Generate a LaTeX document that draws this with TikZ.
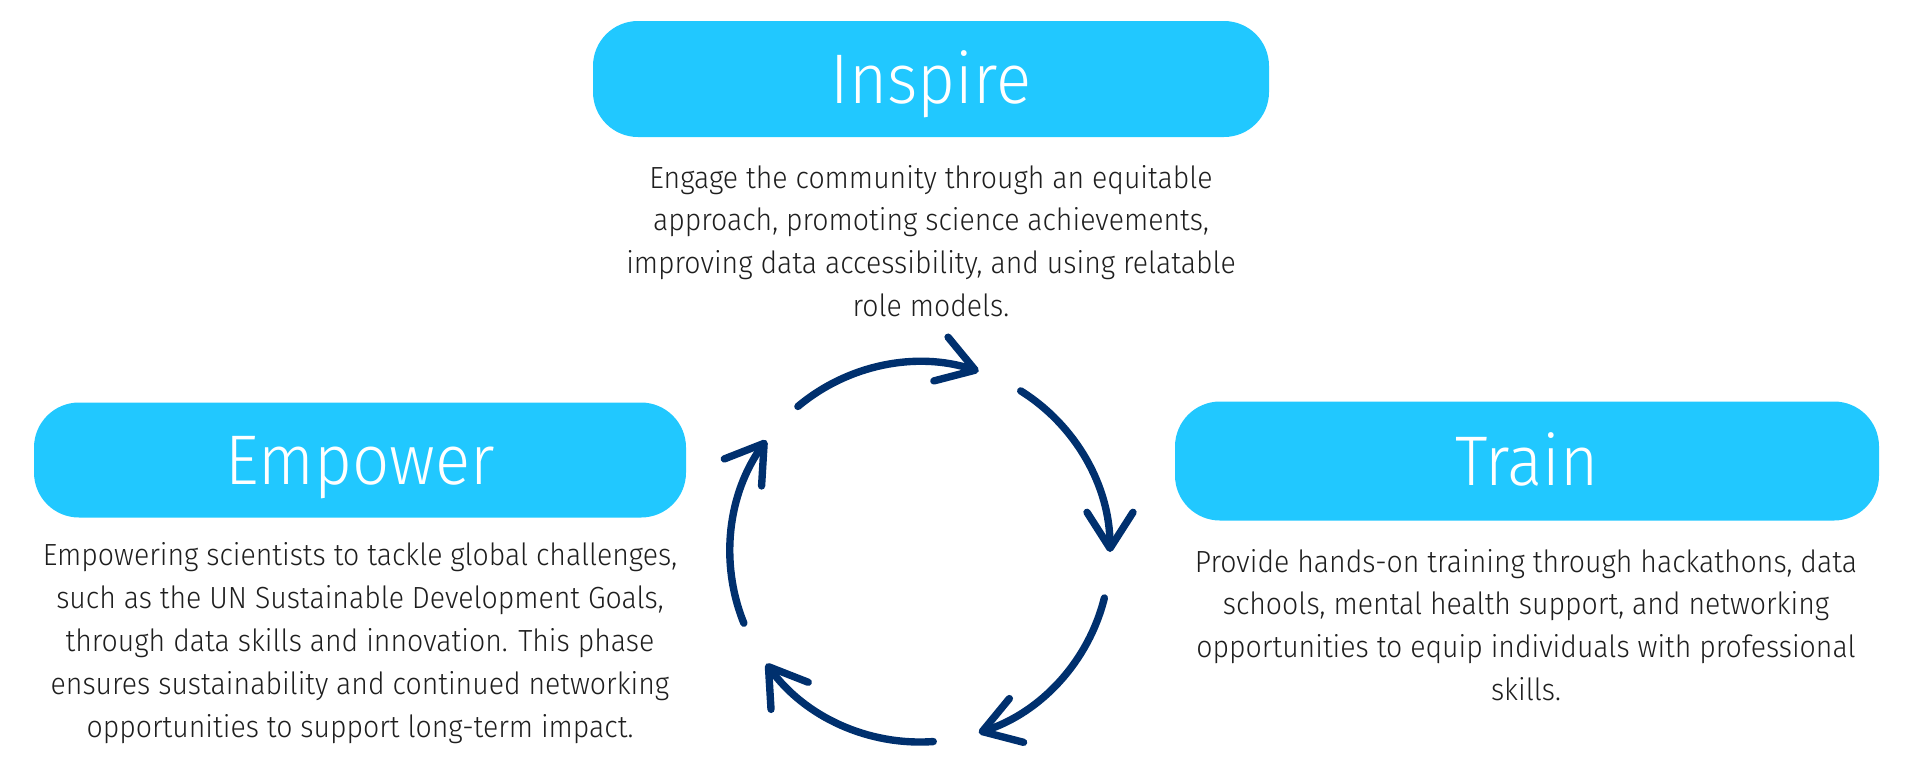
\documentclass[tikz,border=0pt]{standalone}
\usepackage{fontspec}
\setmainfont{Fira Sans}[UprightFont=* Light, FakeStretch=0.93]
\usetikzlibrary{arrows.meta}

\definecolor{phasecyan}{RGB}{33,200,255}
\definecolor{cyclenavy}{RGB}{0,48,110}
\definecolor{bodygrey}{RGB}{30,30,30}

\tikzset{
	phase/.style={fill=phasecyan, rounded corners=0.45cm, text=white, inner sep=0pt,
		font=\fontsize{20}{24}\selectfont, text height=0.49cm, text depth=0pt},
	blurb/.style={text=bodygrey, align=center, font=\fontsize{8.7}{12.2}\selectfont},
	cyc/.style={draw=cyclenavy, line width=2.1pt, line cap=round,
		-{Straight Barb[length=3.6mm, width=4.6mm, round]}}
}

\begin{document}
\begin{tikzpicture}
			\def \r{1.9}
			\useasboundingbox (0,0) rectangle (19.2,7.81);

			% phase boxes
			\node[phase, minimum width=6.76cm, minimum height=1.16cm] (inspire) at (9.31, 7.02) {Inspire};
			\node[phase, minimum width=6.52cm, minimum height=1.15cm] (empower) at (3.60, 3.21) {Empower};
			\node[phase, minimum width=7.04cm, minimum height=1.19cm] (train) at (15.27, 3.20) {Train};

			% descriptions
			\node[blurb] (inspiretxt) at (9.31, 5.40) {Engage the community through an equitable\\
				approach, promoting science achievements,\\
				improving data accessibility, and using relatable\\
				role models.};
			\node[blurb] (empowertxt) at (3.60, 1.38) {Empowering scientists to tackle global challenges,\\
				such as the UN Sustainable Development Goals,\\
				through data skills and innovation. This phase\\
				ensures sustainability and continued networking\\
				opportunities to support long-term impact.};
			\node[blurb] (traintxt) at (15.26, 1.56) {Provide hands-on training through hackathons, data\\
				schools, mental health support, and networking\\
				opportunities to equip individuals with professional\\
				skills.};

			% cycle
			\coordinate (hub) at (9.20, 2.29);
			\foreach \a in {130, 58, -14, -86, -158}
				\draw[cyc] ([shift={(\a:\r)}]hub) arc[start angle=\a, delta angle=-58, radius=\r];
		\end{tikzpicture}
\end{document}
